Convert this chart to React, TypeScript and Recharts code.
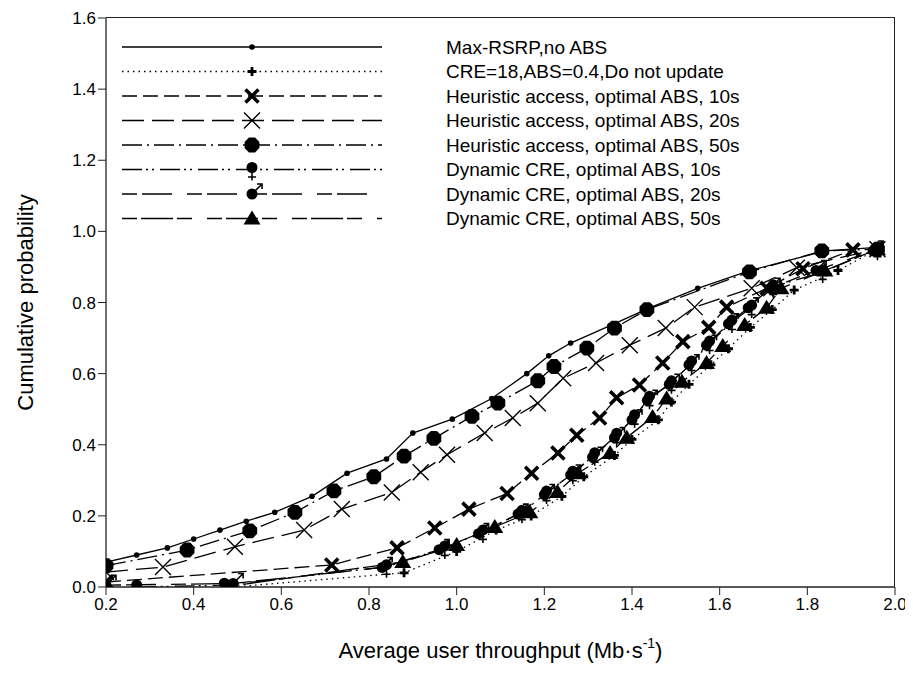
import { LineChart, Line, XAxis, YAxis, Legend, Label } from 'recharts'

// [throughput (Mb/s), cumulative probability]
const maxRsrp = [
  [0.2, 0.07], [0.27, 0.09], [0.34, 0.11], [0.4, 0.135], [0.46, 0.16], [0.52, 0.185],
  [0.585, 0.21], [0.67, 0.255], [0.75, 0.32], [0.84, 0.36], [0.9, 0.433], [0.99, 0.472],
  [1.08, 0.53], [1.16, 0.6], [1.21, 0.65], [1.26, 0.686], [1.35, 0.735], [1.44, 0.785],
  [1.55, 0.84], [1.67, 0.89], [1.84, 0.945], [1.96, 0.955],
]
const cre18 = [
  [0.49, 0.0], [0.88, 0.04], [1.0, 0.1], [1.09, 0.16], [1.17, 0.2], [1.24, 0.255],
  [1.29, 0.31], [1.36, 0.37], [1.4, 0.415], [1.46, 0.47], [1.49, 0.52], [1.53, 0.57],
  [1.58, 0.625], [1.62, 0.67], [1.67, 0.73], [1.72, 0.78], [1.77, 0.835], [1.87, 0.89], [1.96, 0.95],
]
const heur10 = [
  [0.2, 0.014], [0.715, 0.062], [0.864, 0.11], [0.95, 0.166], [1.028, 0.219], [1.115, 0.263],
  [1.171, 0.32], [1.231, 0.377], [1.274, 0.427], [1.326, 0.475], [1.365, 0.532], [1.417, 0.568],
  [1.47, 0.63], [1.516, 0.69], [1.575, 0.73], [1.616, 0.787], [1.708, 0.84], [1.79, 0.895], [1.904, 0.948],
]
const heur20 = [
  [0.2, 0.042], [0.33, 0.056], [0.494, 0.113], [0.652, 0.16], [0.738, 0.219], [0.852, 0.266],
  [0.918, 0.323], [0.978, 0.372], [1.064, 0.433], [1.128, 0.475], [1.185, 0.517], [1.243, 0.587],
  [1.318, 0.63], [1.395, 0.68], [1.477, 0.728], [1.543, 0.787], [1.673, 0.84], [1.776, 0.898], [1.96, 0.95],
]
const heur50 = [
  [0.2, 0.06], [0.385, 0.104], [0.528, 0.158], [0.631, 0.21], [0.72, 0.27], [0.811, 0.31],
  [0.88, 0.368], [0.948, 0.418], [1.035, 0.48], [1.094, 0.517], [1.185, 0.58], [1.222, 0.62],
  [1.297, 0.672], [1.36, 0.728], [1.434, 0.78], [1.668, 0.886], [1.833, 0.945], [1.96, 0.95],
]
const dyn10 = [
  [0.27, 0.0], [0.47, 0.005], [0.84, 0.057], [0.973, 0.11], [1.06, 0.155], [1.149, 0.21],
  [1.205, 0.264], [1.265, 0.32], [1.315, 0.372], [1.365, 0.427], [1.406, 0.479], [1.44, 0.531],
  [1.49, 0.574], [1.536, 0.63], [1.577, 0.686], [1.628, 0.745], [1.673, 0.787], [1.722, 0.844],
  [1.835, 0.886], [1.96, 0.95],
]
const dyn20 = [
  [0.2, 0.005], [0.49, 0.01], [0.83, 0.055], [0.96, 0.105], [1.05, 0.15], [1.14, 0.205],
  [1.2, 0.26], [1.26, 0.315], [1.31, 0.365], [1.36, 0.42], [1.4, 0.47], [1.435, 0.525],
  [1.485, 0.57], [1.53, 0.625], [1.57, 0.68], [1.62, 0.74], [1.665, 0.785], [1.715, 0.84],
  [1.82, 0.89], [1.95, 0.945],
]
const dyn50 = [
  [0.47, 0.0], [0.877, 0.07], [1.0, 0.118], [1.087, 0.169], [1.167, 0.21], [1.23, 0.267],
  [1.277, 0.32], [1.35, 0.377], [1.388, 0.42], [1.447, 0.478], [1.479, 0.53], [1.514, 0.577],
  [1.57, 0.63], [1.607, 0.678], [1.657, 0.737], [1.707, 0.785], [1.74, 0.84], [1.84, 0.89], [1.96, 0.95],
]

const xTicks = [0.2, 0.4, 0.6, 0.8, 1.0, 1.2, 1.4, 1.6, 1.8, 2.0]
const yTicks = [0, 0.2, 0.4, 0.6, 0.8, 1.0, 1.2, 1.4, 1.6]

const FONT = '"Liberation Sans", Arial, sans-serif'
const AXIS = '#222'
const W = 900
const H = 670
const MARGIN = { top: 10, right: 13, bottom: 51, left: 38 }
const Y_W = 60
const X_H = 40
// plot box, derived from the layout above
const BOX = {
  left: MARGIN.left + Y_W,
  right: W - MARGIN.right,
  top: MARGIN.top,
  bottom: H - MARGIN.bottom - X_H,
}

const series = [
  { name: 'Max-RSRP,no ABS', pts: maxRsrp, dash: undefined, mark: 'dot' },
  { name: 'CRE=18,ABS=0.4,Do not update', pts: cre18, dash: '1.5 4', mark: 'plus' },
  { name: 'Heuristic access, optimal ABS, 10s', pts: heur10, dash: '15 6', mark: 'xBold' },
  { name: 'Heuristic access, optimal ABS, 20s', pts: heur20, dash: '22 8', mark: 'xThin' },
  { name: 'Heuristic access, optimal ABS, 50s', pts: heur50, dash: '20 5 2 5', mark: 'octagon' },
  { name: 'Dynamic CRE, optimal ABS, 10s', pts: dyn10, dash: '20 4 2 4 2 6', mark: 'female' },
  { name: 'Dynamic CRE, optimal ABS, 20s', pts: dyn20, dash: '15 5 30 15', mark: 'male' },
  { name: 'Dynamic CRE, optimal ABS, 50s', pts: dyn50, dash: '15 4 32 4 15 15', mark: 'triangle' },
]

const toRows = (pts: number[][]) => pts.map(([x, y]) => ({ x, y }))

function Mark({ kind, x, y }: { kind: string; x: number; y: number }) {
  switch (kind) {
    case 'dot':
      return <circle cx={x} cy={y} r={2.8} fill="#000" />
    case 'plus':
      return <path d={`M${x - 4.5},${y}H${x + 4.5}M${x},${y - 4.5}V${y + 4.5}`} stroke="#000" strokeWidth={2.8} />
    case 'xBold':
      return (
        <path d={`M${x - 6.5},${y - 6.5}L${x + 6.5},${y + 6.5}M${x - 6.5},${y + 6.5}L${x + 6.5},${y - 6.5}`}
          stroke="#000" strokeWidth={3.6} />
      )
    case 'xThin':
      return (
        <path d={`M${x - 8},${y - 8}L${x + 8},${y + 8}M${x - 8},${y + 8}L${x + 8},${y - 8}`}
          stroke="#000" strokeWidth={1.4} />
      )
    case 'octagon': {
      const pts = Array.from({ length: 8 }, (_, i) => {
        const a = (Math.PI / 8) * (2 * i + 1)
        return `${x + 8 * Math.cos(a)},${y + 8 * Math.sin(a)}`
      }).join(' ')
      return <polygon points={pts} fill="#000" />
    }
    case 'female':
      return (
        <g>
          <circle cx={x} cy={y - 2} r={5.5} fill="#000" />
          <path d={`M${x},${y + 2}V${y + 11}M${x - 4},${y + 7.5}H${x + 4}`} stroke="#000" strokeWidth={1.6} />
        </g>
      )
    case 'male':
      return (
        <g>
          <circle cx={x} cy={y} r={5.5} fill="#000" />
          <path d={`M${x + 3},${y - 3}L${x + 10},${y - 10}M${x + 5},${y - 10}H${x + 10}V${y - 5}`}
            stroke="#000" strokeWidth={1.6} fill="none" />
        </g>
      )
    case 'triangle':
      return <polygon points={`${x},${y - 8} ${x + 8.5},${y + 6} ${x - 8.5},${y + 6}`} fill="#000" />
    default:
      return null
  }
}

const dotFor = (kind: string) => (props: any) => {
  const { cx, cy, index } = props
  if (cx == null || cy == null) return <g key={`e${index}`} />
  return (
    <g key={`d${index}`}>
      <Mark kind={kind} x={cx} y={cy} />
    </g>
  )
}

function LegendBox() {
  return (
    <svg width={700} height={200} style={{ display: 'block' }}>
      {series.map((s, i) => {
        const y = 15 + i * 24.5
        return (
          <g key={s.name}>
            <line x1={0} x2={260} y1={y} y2={y} stroke="#000" strokeWidth={1.3} strokeDasharray={s.dash} />
            <Mark kind={s.mark} x={130} y={y} />
            <text x={324} y={y} dy="0.35em" fontSize={19} fontFamily={FONT} fill="#000">
              {s.name}
            </text>
          </g>
        )
      })}
    </svg>
  )
}

function XTitle(props: any) {
  const { viewBox } = props
  const cx = viewBox.x + viewBox.width / 2
  return (
    <text x={cx} y={650} textAnchor="middle" fontSize={22} fontFamily={FONT} fill="#000">
      Average user throughput (Mb·s
      <tspan dy={-10} fontSize={14}>-1</tspan>
      <tspan dy={10}>)</tspan>
    </text>
  )
}

function YTitle(props: any) {
  const { viewBox } = props
  const cy = viewBox.y + viewBox.height / 2
  return (
    <text x={17} y={cy} textAnchor="middle" dominantBaseline="central" fontSize={22} fontFamily={FONT}
      fill="#000" transform={`rotate(-90 17 ${cy})`}>
      Cumulative probability
    </text>
  )
}

export default function App() {
  const tickStyle = { fontSize: 17, fontFamily: FONT, fill: '#000' }
  return (
    <div style={{ position: 'relative', width: W, height: H }}>
      <LineChart width={W} height={H} margin={MARGIN}>
        <XAxis type="number" dataKey="x" domain={[0.2, 2.0]} ticks={xTicks} allowDataOverflow
          tickFormatter={(v: number) => v.toFixed(1)} tick={tickStyle} tickSize={8} tickMargin={3}
          height={X_H} axisLine={{ stroke: AXIS, strokeWidth: 1.3 }} tickLine={{ stroke: AXIS }}>
          <Label content={XTitle} />
        </XAxis>
        <YAxis type="number" dataKey="y" domain={[0, 1.6]} ticks={yTicks} allowDataOverflow
          tickFormatter={(v: number) => v.toFixed(1)} tick={tickStyle} tickSize={8} tickMargin={2}
          width={Y_W} axisLine={{ stroke: AXIS, strokeWidth: 1.3 }} tickLine={{ stroke: AXIS }}>
          <Label content={YTitle} />
        </YAxis>
        {series.map((s) => (
          <Line key={s.name} name={s.name} data={toRows(s.pts)} dataKey="y"
            type="linear" stroke="#000" strokeWidth={1.3} strokeDasharray={s.dash}
            dot={dotFor(s.mark)} activeDot={false} isAnimationActive={false} legendType="none" />
        ))}
        <Legend layout="vertical" align="center" verticalAlign="middle" content={LegendBox}
          wrapperStyle={{ left: 114, top: 24, width: 700, height: 200 }} />
      </LineChart>
      {/* top and right edges of the plot box */}
      <div
        style={{
          position: 'absolute',
          left: BOX.left,
          top: BOX.top - 1,
          width: BOX.right - BOX.left,
          height: BOX.bottom - BOX.top + 1,
          borderTop: `1.5px solid ${AXIS}`,
          borderRight: `1.5px solid ${AXIS}`,
          boxSizing: 'border-box',
          pointerEvents: 'none',
        }}
      />
    </div>
  )
}
